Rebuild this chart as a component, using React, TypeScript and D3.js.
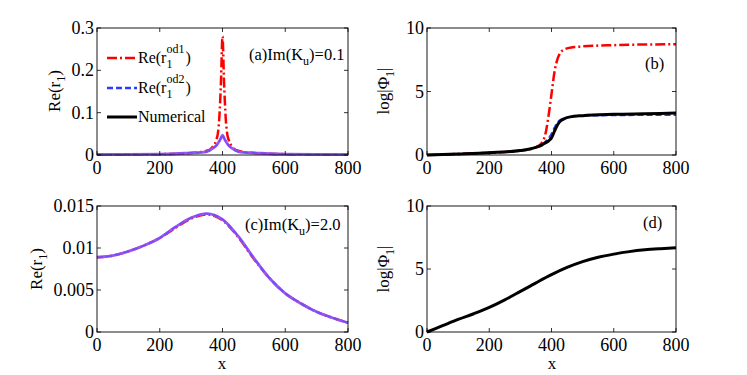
import React from 'react';
import * as d3 from 'd3';

// panel (a): Re(r1), Im(Ku)=0.1
const xA = [0, 100, 200, 250, 300, 330, 350, 360, 370, 380, 385, 390, 395, 400, 405, 410, 415, 420, 430, 440, 450, 470, 500, 550, 600, 700, 800];
const aOd1 = [0.001, 0.0015, 0.002, 0.003, 0.005, 0.007, 0.01, 0.013, 0.02, 0.035, 0.05, 0.09, 0.17, 0.28, 0.17, 0.09, 0.05, 0.035, 0.02, 0.013, 0.01, 0.007, 0.005, 0.003, 0.002, 0.0015, 0.001];
const aOd2 = [0.001, 0.0015, 0.002, 0.003, 0.005, 0.006, 0.008, 0.011, 0.016, 0.022, 0.027, 0.033, 0.04, 0.048, 0.04, 0.033, 0.027, 0.022, 0.016, 0.011, 0.008, 0.006, 0.005, 0.003, 0.002, 0.0015, 0.001];
const aNum = [0.001, 0.0015, 0.002, 0.003, 0.005, 0.006, 0.008, 0.011, 0.016, 0.022, 0.027, 0.033, 0.04, 0.047, 0.04, 0.033, 0.027, 0.022, 0.016, 0.011, 0.008, 0.006, 0.005, 0.003, 0.002, 0.0015, 0.001];

// panel (b): log|Phi1|, Im(Ku)=0.1
const xB = [0, 100, 200, 300, 350, 370, 380, 390, 400, 410, 420, 430, 440, 460, 500, 600, 700, 800];
const bOd1 = [0, 0.08, 0.18, 0.35, 0.6, 1.0, 1.6, 3.0, 4.8, 6.6, 7.6, 8.1, 8.3, 8.45, 8.55, 8.65, 8.7, 8.72];
const bOd2 = [0, 0.08, 0.18, 0.35, 0.6, 0.85, 1.05, 1.3, 1.7, 2.2, 2.6, 2.8, 2.9, 3.0, 3.08, 3.12, 3.14, 3.15];
const bNum = [0, 0.08, 0.18, 0.35, 0.6, 0.8, 0.95, 1.1, 1.35, 1.9, 2.4, 2.7, 2.85, 3.0, 3.1, 3.2, 3.25, 3.3];

// panel (c): Re(r1), Im(Ku)=2.0
const xC = [0, 50, 100, 150, 200, 250, 300, 350, 400, 450, 500, 550, 600, 650, 700, 750, 800];
const cOd1 = [0.0089, 0.0091, 0.0096, 0.0103, 0.0112, 0.0124, 0.0135, 0.014, 0.0133, 0.0113, 0.0087, 0.0064, 0.0046, 0.0034, 0.0024, 0.0017, 0.0011];
const cOd2 = [0.0089, 0.0091, 0.0096, 0.0103, 0.0112, 0.0125, 0.0136, 0.0141, 0.0134, 0.0114, 0.0088, 0.0064, 0.0046, 0.0034, 0.0024, 0.0017, 0.0011];
const cNum = [0.0089, 0.0091, 0.0096, 0.0103, 0.0112, 0.0125, 0.0136, 0.0141, 0.0134, 0.0114, 0.0088, 0.0064, 0.0046, 0.0034, 0.0024, 0.0017, 0.0011];

// panel (d): log|Phi1|, Im(Ku)=2.0
const xD = [0, 50, 100, 150, 200, 250, 300, 350, 400, 450, 500, 550, 600, 650, 700, 750, 800];
const dNum = [0, 0.5, 1.0, 1.45, 1.95, 2.55, 3.22, 3.9, 4.55, 5.12, 5.58, 5.93, 6.18, 6.38, 6.52, 6.61, 6.68];

const xTicks = [0, 200, 400, 600, 800];
const yTicksA = [0, 0.1, 0.2, 0.3];
const yTicksC = [0, 0.005, 0.01, 0.015];
const yTicksB = [0, 5, 10];

const FONT = '"Liberation Serif", "Times New Roman", serif';
const RED = '#ff0000';
const BLUE = '#2a3cff';
const PURPLE = '#9a55f5';
const DASHDOT = '10,3,2,3';
const DASH = '6,3';

type Series = { x: number[]; y: number[]; color: string; dash?: string; width: number; opacity?: number };

type PanelProps = {
  left: number; top: number; right: number; bottom: number;
  yMax: number; yTicks: number[]; yFmt: (v: number) => string;
  series: Series[];
};

const Panel = ({ left, top, right, bottom, yMax, yTicks, yFmt, series }: PanelProps) => {
  const x = d3.scaleLinear().domain([0, 800]).range([left, right]);
  const y = d3.scaleLinear().domain([0, yMax]).range([bottom, top]);
  const tl = 4;
  return (
    <g>
      {series.map((s, i) => {
        const pts = s.x.map((v, j) => [v, s.y[j]] as [number, number]);
        const line = d3.line<[number, number]>().x(d => x(d[0])).y(d => y(d[1])).curve(d3.curveMonotoneX);
        return (
          <path key={i} d={line(pts) || ''} fill="none" stroke={s.color} strokeWidth={s.width}
            strokeDasharray={s.dash} opacity={s.opacity ?? 1} strokeLinejoin="round" />
        );
      })}
      <rect x={left} y={top} width={right - left} height={bottom - top} fill="none" stroke="#000" strokeWidth={0.9} />
      {xTicks.map(t => (
        <g key={'x' + t}>
          <line x1={x(t)} x2={x(t)} y1={bottom} y2={bottom - tl} stroke="#000" strokeWidth={0.8} />
          <line x1={x(t)} x2={x(t)} y1={top} y2={top + tl} stroke="#000" strokeWidth={0.8} />
          <text x={x(t)} y={bottom + 19} textAnchor="middle" fontSize={18} fontFamily={FONT}>{t}</text>
        </g>
      ))}
      {yTicks.map(t => (
        <g key={'y' + t}>
          <line x1={left} x2={left + tl} y1={y(t)} y2={y(t)} stroke="#000" strokeWidth={0.8} />
          <line x1={right} x2={right - tl} y1={y(t)} y2={y(t)} stroke="#000" strokeWidth={0.8} />
          <text x={left - 3} y={y(t) + 6} textAnchor="end" fontSize={18} fontFamily={FONT}>{yFmt(t)}</text>
        </g>
      ))}
    </g>
  );
};

const ReLabel = ({ x, y }: { x: number; y: number }) => (
  <text transform={`translate(${x},${y}) rotate(-90)`} textAnchor="middle" fontSize={17} fontFamily={FONT}>
    Re(r<tspan fontSize={12} dy={5}>1</tspan><tspan dy={-5}>)</tspan>
  </text>
);

const LogLabel = ({ x, y }: { x: number; y: number }) => (
  <text transform={`translate(${x},${y}) rotate(-90)`} textAnchor="middle" fontSize={17} fontFamily={FONT}>
    log|Φ<tspan fontSize={12} dy={5}>1</tspan><tspan dy={-5}>|</tspan>
  </text>
);

const LegendText = ({ x, y, sup }: { x: number; y: number; sup: string }) => (
  <text x={x} y={y} fontSize={16} fontFamily={FONT}>
    Re(r<tspan fontSize={12} dy={5}>1</tspan>
    <tspan fontSize={12} dx={-6} dy={-15}>{sup}</tspan>
    <tspan dx={1} dy={10}>)</tspan>
  </text>
);

const ImLabel = ({ x, y, tag, val }: { x: number; y: number; tag: string; val: string }) => (
  <text x={x} y={y} fontSize={16.5} fontFamily={FONT}>
    {tag}Im(K<tspan fontSize={12} dy={5}>u</tspan><tspan dy={-5}>)={val}</tspan>
  </text>
);

export default function App() {
  const fmtA = (v: number) => (v === 0 ? '0' : String(v));
  const fmtInt = (v: number) => String(v);
  return (
    <svg width={747} height={375} style={{ position: 'absolute', left: 0, top: 0, background: '#fff' }}>
      <rect width={747} height={375} fill="#fff" />
      <Panel left={97} top={28} right={348} bottom={155} yMax={0.3} yTicks={yTicksA} yFmt={fmtA}
        series={[
          { x: xA, y: aOd1, color: RED, dash: DASHDOT, width: 2.5 },
          { x: xA, y: aNum, color: PURPLE, width: 2.8 },
          { x: xA, y: aOd2, color: BLUE, dash: DASH, width: 1.6, opacity: 0.35 },
        ]} />
      <Panel left={427} top={28} right={676} bottom={155} yMax={10} yTicks={yTicksB} yFmt={fmtInt}
        series={[
          { x: xB, y: bOd1, color: RED, dash: DASHDOT, width: 2.5 },
          { x: xB, y: bOd2, color: BLUE, dash: DASH, width: 1.8 },
          { x: xB, y: bNum, color: '#000', width: 3 },
        ]} />
      <Panel left={97} top={206} right={348} bottom={332} yMax={0.015} yTicks={yTicksC} yFmt={fmtA}
        series={[
          { x: xC, y: cOd1, color: RED, dash: DASHDOT, width: 2.5 },
          { x: xC, y: cNum, color: PURPLE, width: 2.8 },
          { x: xC, y: cOd2, color: BLUE, dash: DASH, width: 1.6, opacity: 0.35 },
        ]} />
      <Panel left={427} top={206} right={676} bottom={332} yMax={10} yTicks={yTicksB} yFmt={fmtInt}
        series={[
          { x: xD, y: dNum, color: '#000', width: 3 },
        ]} />

      <ReLabel x={60} y={91} />
      <ReLabel x={42} y={269} />
      <LogLabel x={389} y={91} />
      <LogLabel x={389} y={269} />

      <text x={222} y={369} textAnchor="middle" fontSize={17} fontFamily={FONT}>x</text>
      <text x={552} y={369} textAnchor="middle" fontSize={17} fontFamily={FONT}>x</text>

      {/* legend */}
      <line x1={107} x2={137} y1={58} y2={58} stroke={RED} strokeWidth={2.5} strokeDasharray={DASHDOT} />
      <LegendText x={138} y={63} sup="od1" />
      <line x1={107} x2={137} y1={88} y2={88} stroke={BLUE} strokeWidth={2.5} strokeDasharray={DASH} />
      <LegendText x={138} y={93} sup="od2" />
      <line x1={107} x2={137} y1={117} y2={117} stroke="#000" strokeWidth={3} />
      <text x={138} y={122} fontSize={16} fontFamily={FONT}>Numerical</text>

      <ImLabel x={249} y={60} tag="(a)" val="0.1" />
      <text x={645} y={69} fontSize={16.5} fontFamily={FONT}>(b)</text>
      <ImLabel x={245} y={230} tag="(c)" val="2.0" />
      <text x={643} y={228} fontSize={16.5} fontFamily={FONT}>(d)</text>
    </svg>
  );
}
